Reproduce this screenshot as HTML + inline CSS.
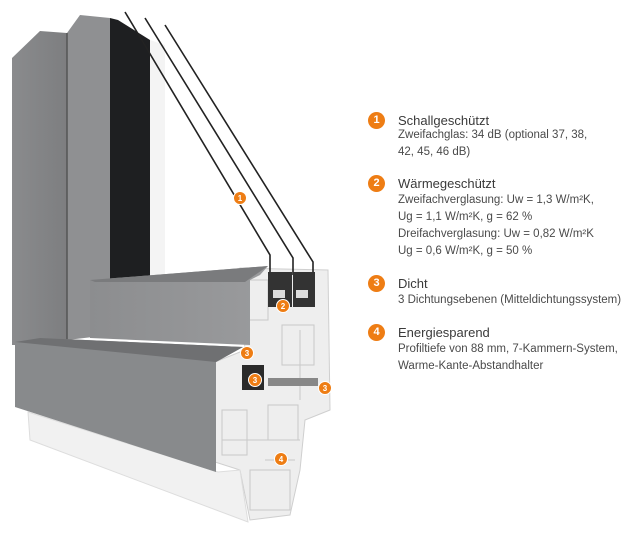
<!DOCTYPE html>
<html><head><meta charset="utf-8"><style>
html,body{margin:0;padding:0;background:#fff;}
body{width:644px;height:534px;position:relative;overflow:hidden;font-family:"Liberation Sans",sans-serif;}
svg{position:absolute;left:0;top:0;}
.t{position:absolute;left:398px;color:#3a3a3a;white-space:nowrap;}
.h{font-size:13px;}
.b{font-size:11.5px;color:#4a4a4a;line-height:17px;}
.bd{position:absolute;left:368px;width:17px;height:17px;border-radius:50%;background:#ee7d14;color:#fff;font-size:11px;font-weight:bold;text-align:center;line-height:17px;}
</style></head><body>
<svg width="644" height="534" viewBox="0 0 644 534">
<defs>
<linearGradient id="g1" x1="0" x2="1"><stop offset="0" stop-color="#8a8b8d"/><stop offset="1" stop-color="#7d7e80"/></linearGradient>
<linearGradient id="g2" x1="0" x2="1"><stop offset="0" stop-color="#8c8d8f"/><stop offset="1" stop-color="#9a9b9d"/></linearGradient>
</defs>
<polygon points="240,268 328,270 330,410 305,420 300,470 290,515 250,520 240,470 215,462 215,362 245,350" fill="#eeeeee" stroke="#cfcfcf"/>
<g stroke="#c8c8c8" fill="none">
<rect x="248" y="280" width="20" height="40"/><rect x="282" y="325" width="32" height="40"/><rect x="268" y="405" width="30" height="35"/>
<rect x="222" y="410" width="25" height="45"/><rect x="250" y="470" width="40" height="40"/><line x1="300" y1="330" x2="300" y2="400"/>
<line x1="222" y1="440" x2="300" y2="440"/><line x1="265" y1="460" x2="295" y2="460"/>
</g>
<polygon points="28,412 218,472 240,470 248,522 30,440" fill="#f1f1f1" stroke="#ddd"/>
<polygon points="12,58 40,31 67,33 67,345 12,345" fill="url(#g1)"/>
<polygon points="67,33 80,15 110,18 110,335 67,340" fill="#8f9092"/>
<line x1="67" y1="33" x2="67" y2="345" stroke="#555" stroke-width="1.5"/>
<polygon points="110,18 118,20 150,40 150,280 110,282" fill="#1e1f21"/>
<polygon points="150,40 165,45 165,278 150,280" fill="#f4f4f4"/>
<polygon points="90,280 268,266 260,275 250,280 250,345 90,338" fill="url(#g2)"/>
<polygon points="90,280 268,266 245,282 95,282" fill="#7a7b7d"/>
<polygon points="15,342 40,338 243,347 216,362 216,472 15,407" fill="#888a8c"/>
<polygon points="15,342 40,338 243,347 216,362" fill="#6f7072"/>
<g stroke="#222" stroke-width="1.6" fill="none">
<polyline points="125,12 270,255 270,275"/>
<polyline points="145,18 293,258 293,275"/>
<polyline points="165,25 313,262 313,275"/>
</g>
<rect x="268" y="272" width="24" height="35" fill="#333"/><rect x="293" y="272" width="22" height="35" fill="#333"/>
<rect x="273" y="290" width="12" height="8" fill="#ddd"/><rect x="296" y="290" width="12" height="8" fill="#ddd"/>
<rect x="242" y="365" width="22" height="25" fill="#2a2a2a"/>
<rect x="268" y="378" width="50" height="8" fill="#888"/>
<g fill="#ee7d14" stroke="#fff" stroke-width="1">
<circle cx="240" cy="198" r="6.5"/><circle cx="283" cy="306" r="6.5"/><circle cx="247" cy="353" r="6.5"/>
<circle cx="255" cy="380" r="6.5"/><circle cx="325" cy="388" r="6.5"/><circle cx="281" cy="459" r="6.5"/>
</g>
<g fill="#fff" font-family="Liberation Sans" font-size="8" font-weight="bold" text-anchor="middle">
<text x="240" y="201">1</text><text x="283" y="309">2</text><text x="247" y="356">3</text>
<text x="255" y="383">3</text><text x="325" y="391">3</text><text x="281" y="462">4</text>
</g>
</svg>
<div class="bd" style="top:112px">1</div>
<div class="t h" style="top:113px">Schallgeschützt</div>
<div class="t b" style="top:127px">Zweifachglas: 34 dB (optional 37, 38,<br>42, 45, 46 dB)</div>
<div class="bd" style="top:175px">2</div>
<div class="t h" style="top:176px">Wärmegeschützt</div>
<div class="t b" style="top:192px">Zweifachverglasung: Uw = 1,3 W/m²K,<br>Ug = 1,1 W/m²K, g = 62 %<br>Dreifachverglasung: Uw = 0,82 W/m²K<br>Ug = 0,6 W/m²K, g = 50 %</div>
<div class="bd" style="top:275px">3</div>
<div class="t h" style="top:276px">Dicht</div>
<div class="t b" style="top:292px">3 Dichtungsebenen (Mitteldichtungssystem)</div>
<div class="bd" style="top:324px">4</div>
<div class="t h" style="top:325px">Energiesparend</div>
<div class="t b" style="top:341px">Profiltiefe von 88 mm, 7-Kammern-System,<br>Warme-Kante-Abstandhalter</div>
</body></html>
